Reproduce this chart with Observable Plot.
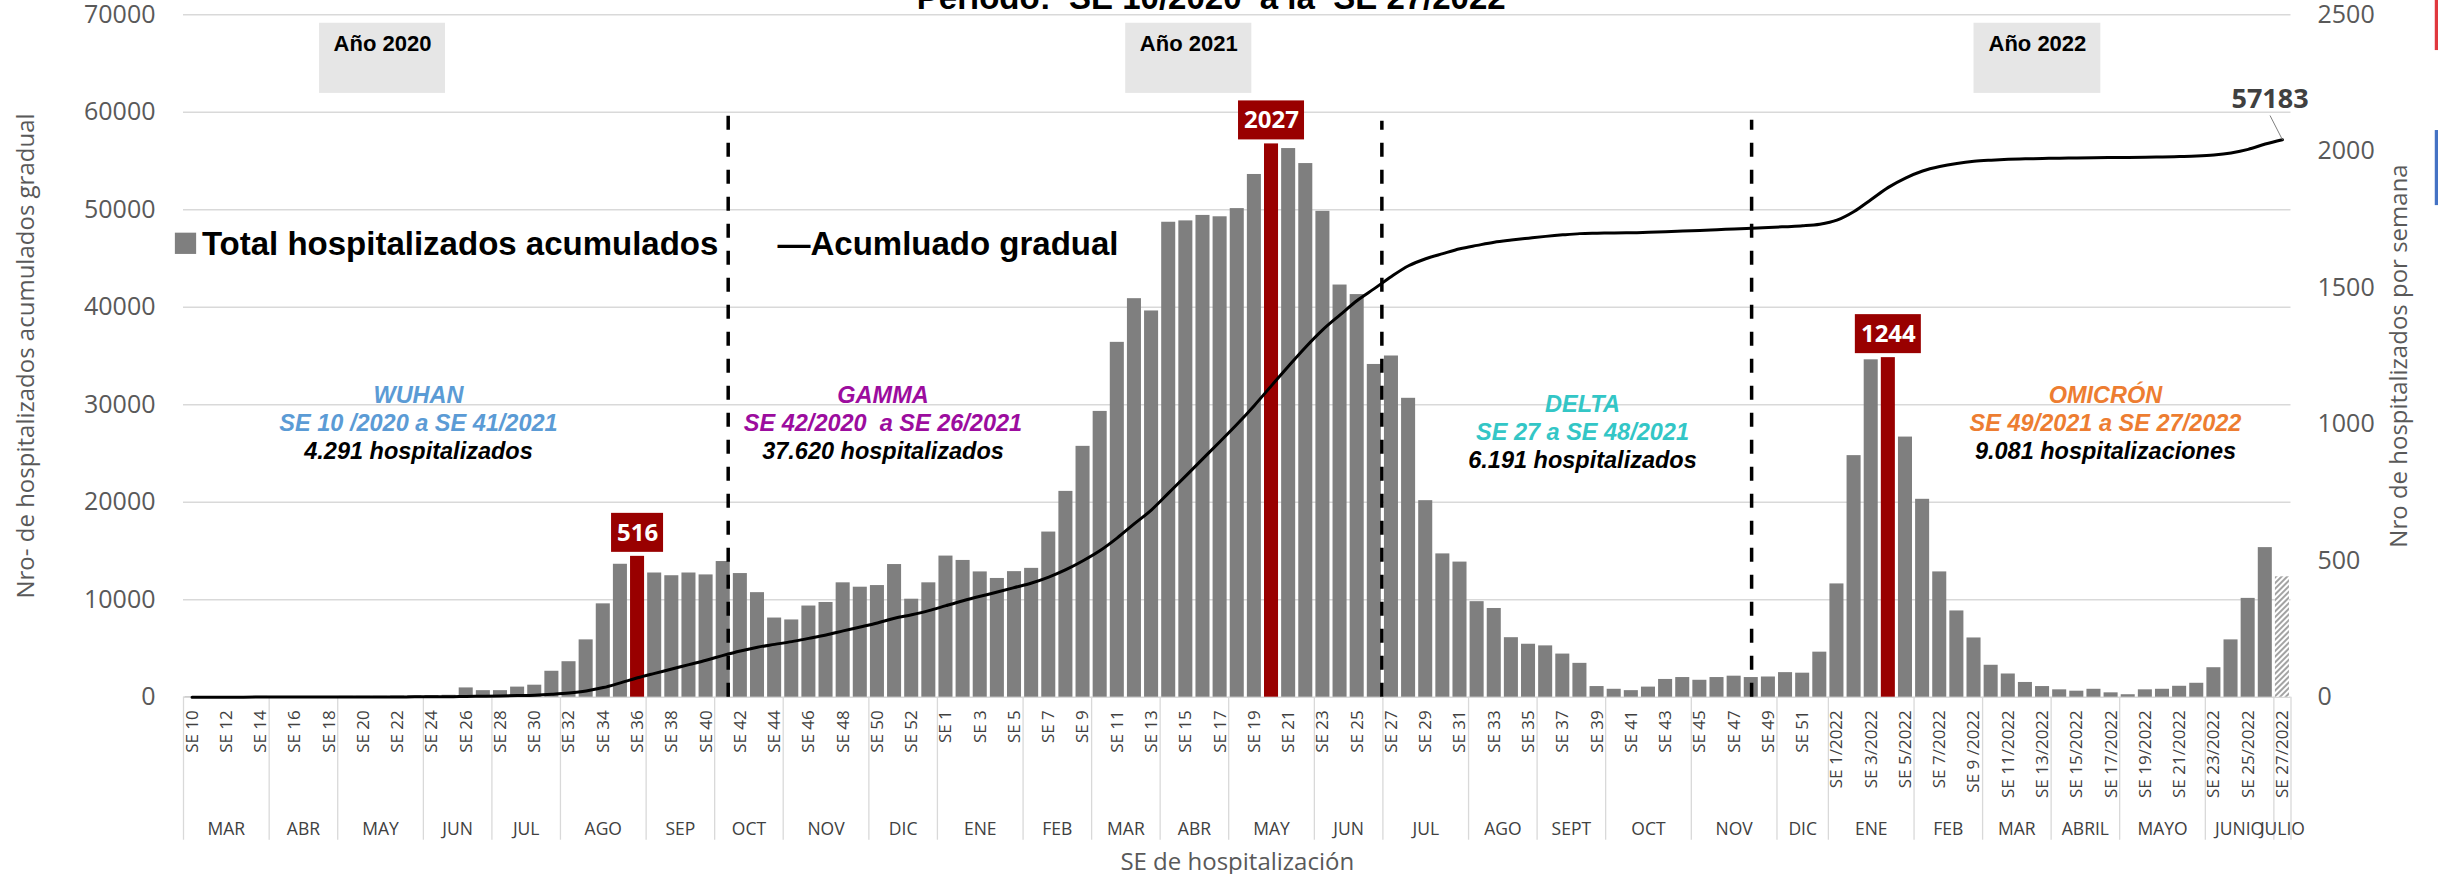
<!DOCTYPE html>
<html>
<head>
<meta charset="utf-8">
<script src="https://cdn.jsdelivr.net/npm/d3@7"></script>
<script src="https://cdn.jsdelivr.net/npm/@observablehq/plot@0.6"></script>
<style>
  html, body { margin: 0; padding: 0; background: #ffffff; }
  #chart { width: 2438px; height: 874px; overflow: hidden; }
</style>
</head>
<body>
<div id="chart"></div>
<script>
// ---------------- DATA ----------------
const semanas2020 = [10,11,12,13,14,15,16,17,18,19,20,21,22,23,24,25,26,27,28,29,30,31,32,33,34,35,36,37,38,39,40,41,42,43,44,45,46,47,48,49,50,51,52,53];
const semanas2021 = [1,2,3,4,5,6,7,8,9,10,11,12,13,14,15,16,17,18,19,20,21,22,23,24,25,26,27,28,29,30,31,32,33,34,35,36,37,38,39,40,41,42,43,44,45,46,47,48,49,50,51,52];
const semanas2022 = [1,2,3,4,5,6,7,8,9,10,11,12,13,14,15,16,17,18,19,20,21,22,23,24,25,26,27];

// hospitalizados por semana (eje derecho)
const hosp2020 = [1,1,2,2,3,2,2,2,2,3, 3,3,4,5,6,7,34,24,24,37, 44,95,130,210,342,487,516,455,445,455, 448,497,453,383,290,283,334,347,419,403, 409,486,359,419];
const hosp2021 = [517,501,459,435,460,472,605,754,919,1047, 1300,1460,1415,1740,1745,1765,1760,1790,1915,2027, 2010,1955,1780,1510,1475,1219,1250,1095,720,525, 495,350,325,218,194,188,158,124,39,29, 24,37,65,72,62,72,77,72,74,90, 88,165];
const hosp2022 = [415,885,1236,1244,953,725,459,316,217,117, 85,54,39,27,22,29,16,9,27,29, 40,51,108,210,362,548,441];

// acumulado gradual (eje izquierdo)
const acum2020 = [1,2,4,6,9,11,13,15,17,20, 23,26,30,35,41,48,82,106,130,167, 211,306,436,646,988,1475,1991,2446,2891,3346, 3794,4291,4744,5127,5417,5700,6034,6381,6800,7203, 7612,8098,8457,8876];
const acum2021 = [9393,9894,10353,10788,11248,11720,12325,13079,13998,15045, 16345,17805,19220,20960,22705,24470,26230,28020,29935,31962, 33972,35927,37707,39217,40692,41911,43161,44256,44976,45501, 45996,46346,46671,46889,47083,47271,47429,47553,47592,47621, 47645,47682,47747,47819,47881,47953,48030,48102,48176,48266, 48354,48519];
const acum2022 = [48934,49819,51055,52299,53252,53977,54436,54752,54969,55086, 55171,55225,55264,55291,55313,55342,55358,55367,55394,55423, 55463,55514,55622,55832,56194,56742,57183];

const etiquetasSE = [
  "SE 10","SE 12","SE 14","SE 16","SE 18","SE 20","SE 22","SE 24","SE 26","SE 28","SE 30","SE 32","SE 34","SE 36","SE 38","SE 40","SE 42","SE 44","SE 46","SE 48","SE 50","SE 52",
  "SE 1","SE 3","SE 5","SE 7","SE 9","SE 11","SE 13","SE 15","SE 17","SE 19","SE 21","SE 23","SE 25","SE 27","SE 29","SE 31","SE 33","SE 35","SE 37","SE 39","SE 41","SE 43","SE 45","SE 47","SE 49","SE 51",
  "SE 1/2022","SE 3/2022","SE 5/2022","SE 7/2022","SE 9 /2022","SE 11/2022","SE 13/2022","SE 15/2022","SE 17/2022","SE 19/2022","SE 21/2022","SE 23/2022","SE 25/2022","SE 27/2022"
];

const meses = ["MAR","ABR","MAY","JUN","JUL","AGO","SEP","OCT","NOV","DIC",
               "ENE","FEB","MAR","ABR","MAY","JUN","JUL","AGO","SEPT","OCT","NOV","DIC",
               "ENE","FEB","MAR","ABRIL","MAYO","JUNIO","JULIO"];
const mesSemanas = [5,4,5,4,4,5,4,4,5,4, 5,4,4,4,5,4,5,4,4,5,5,3, 5,4,4,4,5,4,1];

const picos = [[2020,36],[2021,20],[2022,4]];
const provisional = [2022,27];

const ticksIzq = [0,10000,20000,30000,40000,50000,60000,70000];
const ticksDer = [0,500,1000,1500,2000,2500];

const variantes = ["WUHAN","GAMMA","DELTA","OMICRÓN"];
const periodos = ["SE 10 /2020 a SE 41/2021","SE 42/2020  a SE 26/2021","SE 27 a SE 48/2021","SE 49/2021 a SE 27/2022"];
const totales = ["4.291 hospitalizados","37.620 hospitalizados","6.191 hospitalizados","9.081 hospitalizaciones"];
const anios = ["Año 2020","Año 2021","Año 2022"];

const titulo = "Periodo:  SE 10/2020  a la  SE 27/2022";
const leyendaBarras = "Total hospitalizados acumulados";
const leyendaLinea = "—Acumluado gradual";
const tituloX = "SE de hospitalización";
const tituloYIzq = "Nro- de hospitalizados acumulados gradual";
const tituloYDer = "Nro de hospitalizados por semana";

// ---------------- TABLE ----------------
const semanas = [];
[[2020, semanas2020, hosp2020, acum2020], [2021, semanas2021, hosp2021, acum2021], [2022, semanas2022, hosp2022, acum2022]]
  .forEach(([anio, se, h, a]) => se.forEach((s, k) => {
    semanas.push({
      anio, se: s, hosp: h[k], acum: a[k], i: semanas.length,
      pico: picos.some(p => p[0] === anio && p[1] === s),
      prov: provisional[0] === anio && provisional[1] === s
    });
  }));
const N = semanas.length;
let inicio = 0;
const mesesData = meses.map((m, k) => { const d = {mes: m, x1: inicio, x2: inicio + mesSemanas[k]}; inicio += mesSemanas[k]; return d; });
const separadores = mesesData.map(d => d.x1).concat([N]);
const ticksData = etiquetasSE.map((t, k) => ({t, i: 2 * k}));
const picosData = semanas.filter(d => d.pico);
const ultimo = semanas[N - 1];

const K = 2500 / 70000; // acumulado -> unidades del eje derecho
const gris = "#7f7f7f", rojo = "#990000";
const F = "Open Sans", FB = "Liberation Sans";

function anotacion(k, color, dx, dy) {
  const base = {frameAnchor: "top-left", dx, textAnchor: "middle", lineAnchor: "bottom",
                fontFamily: FB, fontWeight: "bold", fontStyle: "italic", fontSize: 23.5};
  return [
    Plot.text([variantes[k]], {...base, dy, fill: color}),
    Plot.text([periodos[k]], {...base, dy: dy + 28.5, fill: color}),
    Plot.text([totales[k]], {...base, dy: dy + 56.5, fill: "#000000"})
  ];
}
function cajaAnio(k, x1, x2) {
  return [
    Plot.rect([anios[k]], {x1: () => x1, x2: () => x2, y1: () => 2212, y2: () => 2469, fill: "#e6e6e6"}),
    Plot.text([anios[k]], {x: () => (x1 + x2) / 2, y: () => 2369, text: d => d, textAnchor: "middle", lineAnchor: "bottom",
      fontFamily: FB, fontWeight: "bold", fontSize: 22, fill: "#000000"})
  ];
}

const chart = Plot.plot({
  width: 2438, height: 874,
  marginLeft: 183, marginRight: 147.5, marginTop: 14.3, marginBottom: 177.3,
  x: {type: "linear", domain: [0, N], axis: null},
  y: {type: "linear", domain: [0, 2500], axis: null},
  style: {background: "#ffffff", fontFamily: F},
  marks: [
    // gridlines (left axis)
    Plot.ruleY(ticksIzq, {y: d => d * K, stroke: "#d9d9d9", strokeWidth: 1.5}),
    // left axis labels
    Plot.text(ticksIzq, {x: () => 0, y: d => d * K, text: d => String(d), dx: -28, textAnchor: "end", lineAnchor: "middle",
      fontFamily: F, fontSize: 25, fill: "#595959"}),
    // right axis labels
    Plot.text(ticksDer, {x: () => N, y: d => d, text: d => String(d), dx: 26.5, textAnchor: "start", lineAnchor: "middle",
      fontFamily: F, fontSize: 25, fill: "#595959"}),
    // year boxes
    ...cajaAnio(0, 7.94, 15.29),
    ...cajaAnio(1, 54.99, 62.35),
    ...cajaAnio(2, 104.5, 111.9),
    // month separators
    Plot.ruleX(separadores, {x: d => d, y1: () => 0, y2: () => 0, insetBottom: -143, stroke: "#d9d9d9", strokeWidth: 1.3}),
    // month labels
    Plot.text(mesesData, {x: d => (d.x1 + d.x2) / 2, y: () => 0, text: "mes", dy: 137.6, textAnchor: "middle", lineAnchor: "bottom",
      fontFamily: F, fontSize: 17.5, fill: "#404040"}),
    // week tick labels
    Plot.text(ticksData, {x: d => d.i + 0.5, y: () => 0, text: "t", rotate: -90, dy: 13, textAnchor: "end", lineAnchor: "middle",
      fontFamily: F, fontSize: 17, fill: "#404040"}),
    // bars
    Plot.rect(semanas.filter(d => !d.pico && !d.prov), {x1: d => d.i, x2: d => d.i + 1, y1: () => 0, y2: d => d.hosp,
      insetLeft: 1.55, insetRight: 1.55, fill: gris}),
    Plot.rect(semanas.filter(d => d.pico), {x1: d => d.i, x2: d => d.i + 1, y1: () => 0, y2: d => d.hosp,
      insetLeft: 1.55, insetRight: 1.55, fill: rojo}),
    Plot.rect(semanas.filter(d => d.prov), {x1: d => d.i, x2: d => d.i + 1, y1: () => 0, y2: d => d.hosp,
      insetLeft: 1.55, insetRight: 1.55, fill: "url(#rayado)"}),
    // dashed period separators
    Plot.ruleX([0], {x: () => 31.79, y1: () => 0, y2: () => 60000 * K, stroke: "#000", strokeWidth: 3.5, strokeDasharray: "14,13"}),
    Plot.ruleX([0], {x: () => 69.94, y1: () => 0, y2: () => 60000 * K, insetBottom: -9, stroke: "#000", strokeWidth: 3.5, strokeDasharray: "14,13"}),
    Plot.ruleX([0], {x: () => 91.52, y1: () => 0, y2: () => 60000 * K, insetBottom: -8, stroke: "#000", strokeWidth: 3.5, strokeDasharray: "14,13"}),
    // cumulative line
    Plot.line(semanas, {x: d => d.i + 0.5, y: d => d.acum * K, stroke: "#000000", strokeWidth: 3, curve: "monotone-x"}),
    // peak label boxes
    Plot.rect(picosData.filter(d => String(d.hosp).length === 3), {x1: d => d.i + 0.5, x2: d => d.i + 0.5, y1: "hosp", y2: "hosp",
      insetLeft: -26, insetRight: -26, insetTop: -43, insetBottom: 4, fill: rojo}),
    Plot.rect(picosData.filter(d => String(d.hosp).length === 4), {x1: d => d.i + 0.5, x2: d => d.i + 0.5, y1: "hosp", y2: "hosp",
      insetLeft: -33, insetRight: -33, insetTop: -43, insetBottom: 4, fill: rojo}),
    Plot.text(picosData, {x: d => d.i + 0.5, y: "hosp", text: d => String(d.hosp), dy: -23.5, textAnchor: "middle", lineAnchor: "middle",
      fontFamily: F, fontWeight: "bold", fontSize: 24, fill: "#ffffff"}),
    // final cumulative label
    Plot.link([ultimo], {x1: d => d.i - 0.224, y1: () => 2131, x2: d => d.i + 0.5, y2: d => d.acum * K, stroke: "#7f7f7f", strokeWidth: 1}),
    Plot.text([ultimo], {x: d => d.i + 0.5, y: d => d.acum * K, text: d => String(d.acum), dx: -12.4, dy: -32, textAnchor: "middle", lineAnchor: "bottom",
      fontFamily: F, fontWeight: "bold", fontSize: 27, fill: "#404040"}),
    // variant annotations
    ...anotacion(0, "#5b9bd5", 235, 387.7),
    ...anotacion(1, "#9c0c9e", 699.5, 387.7),
    ...anotacion(2, "#33c6c6", 1399, 396.7),
    ...anotacion(3, "#ed7d31", 1922, 387.7),
    // legend
    Plot.dot([0], {frameAnchor: "top-left", dx: 2, dy: 228.5, symbol: "square", r: 12, fill: gris}),
    Plot.text([leyendaBarras], {frameAnchor: "top-left", dx: 18.4, dy: 239.7, textAnchor: "start", lineAnchor: "bottom",
      fontFamily: FB, fontWeight: "bold", fontSize: 33, fill: "#000000"}),
    Plot.text([leyendaLinea], {frameAnchor: "top-left", dx: 594, dy: 239.7, textAnchor: "start", lineAnchor: "bottom",
      fontFamily: FB, fontWeight: "bold", fontSize: 33, fill: "#000000"}),
    // titles
    Plot.text([titulo], {frameAnchor: "top", dx: -26, dy: -6.3, textAnchor: "middle", lineAnchor: "bottom",
      fontFamily: FB, fontWeight: "bold", fontSize: 33, fill: "#000000"}),
    Plot.text([tituloX], {frameAnchor: "bottom", dy: 165, textAnchor: "middle", lineAnchor: "middle", fontFamily: F, fontSize: 24, fill: "#595959"}),
    Plot.text([tituloYIzq], {frameAnchor: "left", dx: -157, dy: 0, rotate: -90, textAnchor: "middle", lineAnchor: "middle", fontFamily: F, fontSize: 24, fill: "#595959"}),
    Plot.text([tituloYDer], {frameAnchor: "right", dx: 108.5, dy: 0, rotate: -90, textAnchor: "middle", lineAnchor: "middle", fontFamily: F, fontSize: 24, fill: "#595959"}),
    // edge fragments of neighbouring content
    Plot.rect([0], {x1: () => 131.42, x2: () => 131.7, y1: () => 2369, y2: () => 2560, fill: "#e0383e"}),
    Plot.rect([0], {x1: () => 131.42, x2: () => 131.7, y1: () => 1801, y2: () => 2076, fill: "#4472c4"})
  ]
});

d3.select(chart).insert("defs", ":first-child").html(
  '<pattern id="rayado" patternUnits="userSpaceOnUse" width="4" height="4" patternTransform="rotate(45)">' +
  '<rect width="4" height="4" fill="#ffffff"/><line x1="1" y1="0" x2="1" y2="4" stroke="#8c8c8c" stroke-width="1.6"/></pattern>');
document.getElementById("chart").appendChild(chart);
</script>
</body>
</html>
